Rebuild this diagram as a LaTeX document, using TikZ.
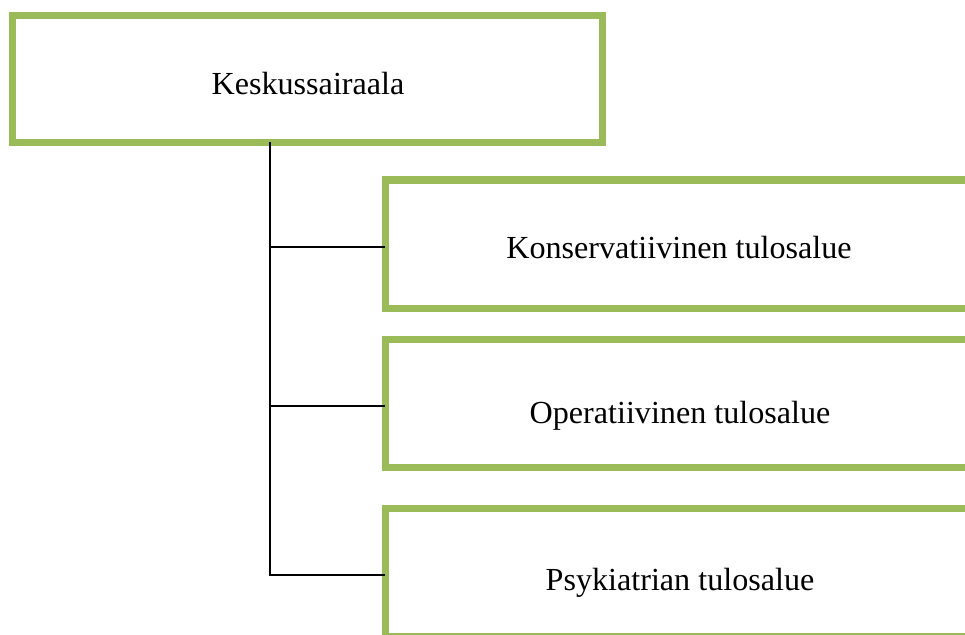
\documentclass[tikz,border=0pt]{standalone}
\usepackage{fontspec}
\setmainfont{Liberation Serif}
\definecolor{unitgreen}{RGB}{155,187,89}
\begin{document}
\begin{tikzpicture}[x=0.75pt,y=-0.75pt,
  unitbox/.style={draw=unitgreen,line width=5.25pt,fill=white,rectangle,
    outer sep=0pt,inner sep=0pt,minimum height=96pt},
  boxlabel/.style={anchor=base,font=\fontsize{24.1pt}{28pt}\selectfont,inner sep=0pt},
  link/.style={draw=black,line width=1.1pt}]
  \useasboundingbox (0,0) rectangle (965,635);
  \clip (0,0) rectangle (965,635);
  % head unit
  \node[unitbox,minimum width=442.5pt,minimum height=95.6pt] (top) at (307.5,78.75) {};
  \node[boxlabel] (toplab) at (308,94) {Keskussairaala};
  % result areas
  \node[unitbox,minimum width=441pt] (kons) at (679,244) {};
  \node[unitbox,minimum width=441pt] (oper) at (679,403) {};
  \node[unitbox,minimum width=441pt] (psyk) at (679,572) {};
  \node[boxlabel] (konslab) at (679,258) {Konservatiivinen tulosalue};
  \node[boxlabel] (operlab) at (680,423) {Operatiivinen tulosalue};
  \node[boxlabel] (psyklab) at (680,590) {Psykiatrian tulosalue};
  % organisation lines
  \coordinate (trunk) at (270,142.5);
  \coordinate (konsin) at ([yshift=-2.25pt]kons.west);
  \coordinate (operin) at ([yshift=-2.25pt]oper.west);
  \coordinate (psykin) at ([yshift=-2.25pt]psyk.west);
  \draw[link] (trunk) -- (trunk |- psykin) -- (psykin);
  \draw[link] (trunk |- konsin) -- (konsin);
  \draw[link] (trunk |- operin) -- (operin);
\end{tikzpicture}
\end{document}
